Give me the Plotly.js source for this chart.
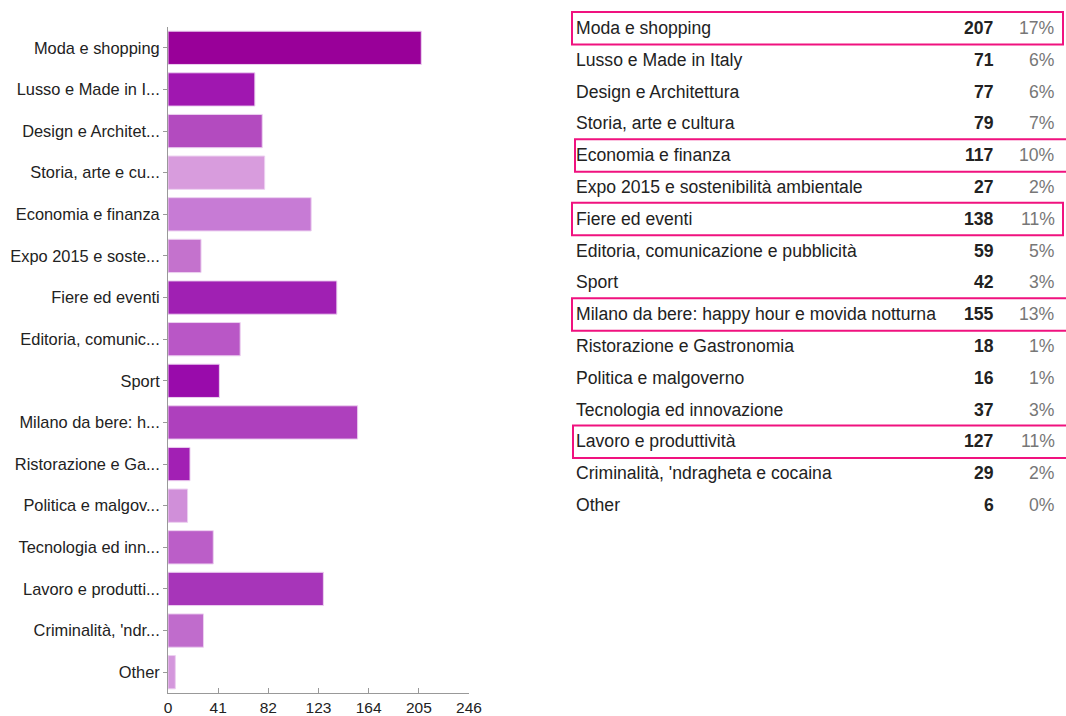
<!DOCTYPE html>
<html>
<head>
<meta charset="utf-8">
<script src="https://cdn.plot.ly/plotly-3.0.1.min.js"></script>
<style>html,body{margin:0;padding:0;background:#fff;}#chart{width:1066px;height:716px;}</style>
</head>
<body>
<div id="chart"></div>
<script>
const categories = [
  "Moda e shopping","Lusso e Made in Italy","Design e Architettura","Storia, arte e cultura",
  "Economia e finanza","Expo 2015 e sostenibilità ambientale","Fiere ed eventi",
  "Editoria, comunicazione e pubblicità","Sport","Milano da bere: happy hour e movida notturna",
  "Ristorazione e Gastronomia","Politica e malgoverno","Tecnologia ed innovazione",
  "Lavoro e produttività","Criminalità, 'ndragheta e cocaina","Other"
];
const shortLabels = [
  "Moda e shopping","Lusso e Made in I...","Design e Architet...","Storia, arte e cu...",
  "Economia e finanza","Expo 2015 e soste...","Fiere ed eventi","Editoria, comunic...",
  "Sport","Milano da bere: h...","Ristorazione e Ga...","Politica e malgov...",
  "Tecnologia ed inn...","Lavoro e produtti...","Criminalità, 'ndr...","Other"
];
const counts = [207,71,77,79,117,27,138,59,42,155,18,16,37,127,29,6];
const percents = ["17%","6%","6%","7%","10%","2%","11%","5%","3%","13%","1%","1%","3%","11%","2%","0%"];
const barColors = ["#990099","#a017b0","#b34bbf","#d89cdd","#c77bd5","#c472cd","#a020b3","#b957c6",
                   "#990bab","#ae40bd","#a220b4","#d08fd9","#bb5ec8","#a735b9","#c06ccc","#d497dc"];
const highlighted = [0,4,6,9,13];
const xTicks = [0,41,82,123,164,205,246];

const W = 1066, H = 716;
const rowTop = 28, rowStep = 31.8;
const py = p => (H - p) / H;
const px = p => p / W;
const tfont = 17.6;

const annotations = [];
categories.forEach((c, i) => {
  const y = py(rowTop + i * rowStep);
  annotations.push({xref:'paper', yref:'paper', x:px(574), y:y, xanchor:'left', yanchor:'middle',
    text:c, showarrow:false, font:{family:'Liberation Sans, Arial, sans-serif', size:tfont, color:'#222'}});
  annotations.push({xref:'paper', yref:'paper', x:px(996), y:y, xanchor:'right', yanchor:'middle',
    text:'<b>'+counts[i]+'</b>', showarrow:false, font:{family:'Liberation Sans, Arial, sans-serif', size:tfont, color:'#222'}});
  annotations.push({xref:'paper', yref:'paper', x:px(1057), y:y, xanchor:'right', yanchor:'middle',
    text:percents[i], showarrow:false, font:{family:'Liberation Sans, Arial, sans-serif', size:tfont, color:'#777'}});
});

const boxX = [[572,1063],[575,1070],[572,1063],[572,1070],[573,1070]];
const shapes = highlighted.map((idx, k) => {
  const cy = rowTop + idx * rowStep;
  return {type:'rect', xref:'paper', yref:'paper',
    x0:px(boxX[k][0]), x1:px(boxX[k][1]), y0:py(cy - 16), y1:py(cy + 16.5),
    line:{color:'#f0127f', width:2}, fillcolor:'rgba(0,0,0,0)'};
});

const trace = {
  type:'bar', orientation:'h', x:counts, y:categories,
  marker:{color:barColors, line:{color:'#ecd0f0', width:1}},
  hoverinfo:'x+y'
};

const layout = {
  width:W, height:H, margin:{l:0,r:0,t:0,b:0},
  paper_bgcolor:'#fff', plot_bgcolor:'#fff',
  showlegend:false, bargap:0.2,
  font:{family:'Liberation Sans, Arial, sans-serif', color:'#222'},
  xaxis:{domain:[px(168), px(469)], range:[0,246], tickmode:'array', tickvals:xTicks,
    ticktext:xTicks.map(String), showgrid:false, zeroline:false, showline:true, linecolor:'#999', linewidth:1,
    ticks:'inside', ticklen:5, tickcolor:'#999', tickfont:{size:15.5, color:'#222'}, fixedrange:true},
  yaxis:{domain:[py(693), py(27)], range:[15.5,-0.5], type:'category', tickmode:'array',
    tickvals:categories, ticktext:shortLabels, showgrid:false, zeroline:false, showline:true,
    linecolor:'#999', linewidth:1, ticks:'outside', ticklen:4, tickcolor:'#999',
    tickfont:{size:16.4, color:'#222'}, fixedrange:true},
  annotations:annotations, shapes:shapes
};

Plotly.newPlot('chart', [trace], layout, {displayModeBar:false, staticPlot:true});
</script>
</body>
</html>
